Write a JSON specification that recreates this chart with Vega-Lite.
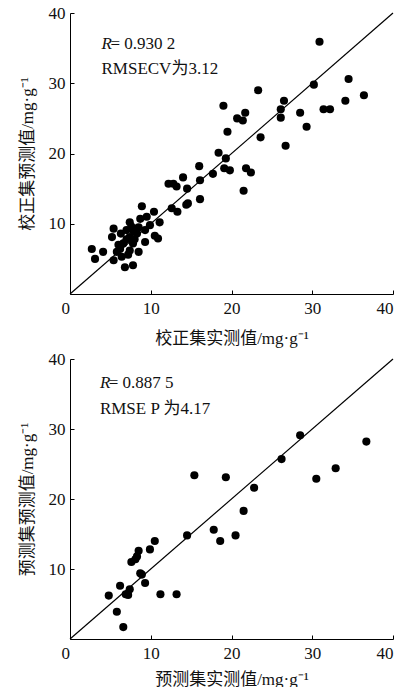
{
  "$schema": "https://vega.github.io/schema/vega-lite/v6.json",
  "padding": {"left": 18, "top": 4, "right": 0, "bottom": 0},
  "background": "white",
  "spacing": 4,
  "datasets": {
    "calib": [
      {"m": 30.9, "p": 35.9}, {"m": 34.5, "p": 30.6}, {"m": 30.2, "p": 29.8}, {"m": 36.4, "p": 28.3},
      {"m": 34.1, "p": 27.5}, {"m": 23.3, "p": 29.0}, {"m": 26.5, "p": 27.5}, {"m": 19.0, "p": 26.8},
      {"m": 26.1, "p": 26.3}, {"m": 28.5, "p": 25.8}, {"m": 31.4, "p": 26.3}, {"m": 32.2, "p": 26.3},
      {"m": 21.7, "p": 25.8}, {"m": 20.7, "p": 25.0}, {"m": 21.4, "p": 24.7}, {"m": 26.1, "p": 25.1},
      {"m": 29.3, "p": 23.8}, {"m": 19.5, "p": 23.1}, {"m": 23.6, "p": 22.3}, {"m": 26.7, "p": 21.1},
      {"m": 18.4, "p": 20.1}, {"m": 19.3, "p": 19.3}, {"m": 19.1, "p": 17.9}, {"m": 19.8, "p": 17.6},
      {"m": 21.8, "p": 17.9}, {"m": 22.4, "p": 17.3}, {"m": 21.5, "p": 14.7}, {"m": 16.0, "p": 18.2},
      {"m": 17.7, "p": 17.1}, {"m": 16.1, "p": 16.2}, {"m": 16.1, "p": 13.5}, {"m": 14.0, "p": 16.6},
      {"m": 12.2, "p": 15.7}, {"m": 13.2, "p": 15.3}, {"m": 12.8, "p": 15.7}, {"m": 14.5, "p": 15.0},
      {"m": 14.6, "p": 12.9}, {"m": 14.4, "p": 12.7}, {"m": 12.6, "p": 12.2}, {"m": 13.3, "p": 11.7},
      {"m": 8.9, "p": 12.5}, {"m": 10.4, "p": 11.7}, {"m": 11.1, "p": 10.2}, {"m": 10.5, "p": 8.3},
      {"m": 10.9, "p": 7.9}, {"m": 9.3, "p": 9.1}, {"m": 9.3, "p": 7.4}, {"m": 8.7, "p": 10.7},
      {"m": 9.5, "p": 11.0}, {"m": 7.4, "p": 10.2}, {"m": 5.4, "p": 9.3}, {"m": 5.2, "p": 8.1},
      {"m": 2.7, "p": 6.4}, {"m": 4.1, "p": 6.0}, {"m": 3.1, "p": 5.0}, {"m": 5.4, "p": 4.8},
      {"m": 6.8, "p": 3.8}, {"m": 7.8, "p": 4.1}, {"m": 8.5, "p": 6.0}, {"m": 6.4, "p": 5.3},
      {"m": 5.8, "p": 6.0}, {"m": 7.4, "p": 8.1}, {"m": 7.0, "p": 9.1}, {"m": 6.6, "p": 7.2},
      {"m": 7.8, "p": 7.2}, {"m": 8.3, "p": 8.6}, {"m": 6.2, "p": 6.4}, {"m": 7.4, "p": 6.2},
      {"m": 8.5, "p": 9.5}, {"m": 9.9, "p": 9.8}, {"m": 7.0, "p": 7.8}, {"m": 8.0, "p": 7.8},
      {"m": 6.0, "p": 7.0}, {"m": 7.2, "p": 5.6}, {"m": 7.9, "p": 8.9}, {"m": 6.3, "p": 8.6},
      {"m": 7.6, "p": 9.6}, {"m": 8.3, "p": 9.3}
    ],
    "pred": [
      {"m": 36.7, "p": 28.2}, {"m": 28.5, "p": 29.1}, {"m": 26.2, "p": 25.7}, {"m": 32.9, "p": 24.4},
      {"m": 30.5, "p": 22.9}, {"m": 15.4, "p": 23.4}, {"m": 19.3, "p": 23.1}, {"m": 22.8, "p": 21.6},
      {"m": 21.5, "p": 18.3}, {"m": 17.8, "p": 15.6}, {"m": 20.5, "p": 14.8}, {"m": 18.6, "p": 14.0},
      {"m": 14.5, "p": 14.8}, {"m": 10.5, "p": 14.0}, {"m": 9.9, "p": 12.8}, {"m": 8.5, "p": 12.6},
      {"m": 8.3, "p": 11.8}, {"m": 8.1, "p": 11.4}, {"m": 7.6, "p": 11.0}, {"m": 8.7, "p": 9.4},
      {"m": 9.3, "p": 8.0}, {"m": 6.2, "p": 7.6}, {"m": 7.4, "p": 7.1}, {"m": 6.9, "p": 6.4},
      {"m": 7.2, "p": 6.3}, {"m": 4.8, "p": 6.2}, {"m": 11.2, "p": 6.4}, {"m": 13.2, "p": 6.4},
      {"m": 5.8, "p": 3.9}, {"m": 6.6, "p": 1.7}, {"m": 8.9, "p": 9.2}
    ]
  },
  "config": {
    "view": {"stroke": null},
    "axis": {
      "domainColor": "#000",
      "domainWidth": 1,
      "tickColor": "#000",
      "tickSize": -4,
      "labelFont": "Liberation Serif",
      "labelFontSize": 17,
      "labelColor": "#111",
      "titleFont": "Liberation Serif, Noto Sans CJK SC",
      "titleFontSize": 17,
      "titleFontWeight": "normal",
      "titleColor": "#111",
      "grid": false
    }
  },
  "vconcat": [
    {
      "width": 323,
      "height": 281,
      "layer": [
        {
          "data": {"name": "calib"},
          "mark": {"type": "point", "filled": true, "shape": "circle", "size": 66, "color": "#000", "opacity": 1},
          "encoding": {
            "x": {"field": "m", "type": "quantitative", "scale": {"domain": [0, 40], "nice": false},
              "axis": {"title": "校正集实测值/mg·g⁻¹", "values": [0, 10, 20, 30, 40], "labelPadding": 10, "titlePadding": 14,
                "labelOffset": {"condition": {"test": "datum.value == 0", "value": -9}, "value": 0}}},
            "y": {"field": "p", "type": "quantitative", "scale": {"domain": [0, 40], "nice": false},
              "axis": {"title": "校正集预测值/mg·g⁻¹", "values": [10, 20, 30, 40], "labelPadding": 9, "titlePadding": 12}}
          }
        },
        {
          "data": {"values": [{}]},
          "mark": {"type": "rule", "color": "#000", "strokeWidth": 1.2},
          "encoding": {"x": {"datum": 0, "type": "quantitative"}, "y": {"datum": 0, "type": "quantitative"}, "x2": {"datum": 40}, "y2": {"datum": 40}}
        },
        {
          "data": {"values": [{}]},
          "mark": {"type": "text", "font": "Liberation Serif", "fontSize": 17, "fontStyle": "italic", "align": "left", "baseline": "alphabetic", "color": "#111"},
          "encoding": {"x": {"datum": 3.9, "type": "quantitative"}, "y": {"datum": 34.9, "type": "quantitative"}, "text": {"value": "R"}}
        },
        {
          "data": {"values": [{}]},
          "mark": {"type": "text", "font": "Liberation Serif", "fontSize": 17, "align": "left", "baseline": "alphabetic", "color": "#111"},
          "encoding": {"x": {"datum": 5.0, "type": "quantitative"}, "y": {"datum": 34.9, "type": "quantitative"}, "text": {"value": "= 0.930 2"}}
        },
        {
          "data": {"values": [{}]},
          "mark": {"type": "text", "font": "Liberation Serif, Noto Sans CJK SC", "fontSize": 17, "align": "left", "baseline": "alphabetic", "color": "#111"},
          "encoding": {"x": {"datum": 3.9, "type": "quantitative"}, "y": {"datum": 31.3, "type": "quantitative"}, "text": {"value": "RMSECV为3.12"}}
        }
      ]
    },
    {
      "width": 323,
      "height": 280,
      "layer": [
        {
          "data": {"name": "pred"},
          "mark": {"type": "point", "filled": true, "shape": "circle", "size": 66, "color": "#000", "opacity": 1},
          "encoding": {
            "x": {"field": "m", "type": "quantitative", "scale": {"domain": [0, 40], "nice": false},
              "axis": {"title": "预测集实测值/mg·g⁻¹", "values": [0, 10, 20, 30, 40], "labelPadding": 10, "titlePadding": 10,
                "labelOffset": {"condition": {"test": "datum.value == 0", "value": -9}, "value": 0}}},
            "y": {"field": "p", "type": "quantitative", "scale": {"domain": [0, 40], "nice": false},
              "axis": {"title": "预测集预测值/mg·g⁻¹", "values": [10, 20, 30, 40], "labelPadding": 9, "titlePadding": 12}}
          }
        },
        {
          "data": {"values": [{}]},
          "mark": {"type": "rule", "color": "#000", "strokeWidth": 1.2},
          "encoding": {"x": {"datum": 0, "type": "quantitative"}, "y": {"datum": 0, "type": "quantitative"}, "x2": {"datum": 40}, "y2": {"datum": 40}}
        },
        {
          "data": {"values": [{}]},
          "mark": {"type": "text", "font": "Liberation Serif", "fontSize": 17, "fontStyle": "italic", "align": "left", "baseline": "alphabetic", "color": "#111"},
          "encoding": {"x": {"datum": 3.7, "type": "quantitative"}, "y": {"datum": 35.8, "type": "quantitative"}, "text": {"value": "R"}}
        },
        {
          "data": {"values": [{}]},
          "mark": {"type": "text", "font": "Liberation Serif", "fontSize": 17, "align": "left", "baseline": "alphabetic", "color": "#111"},
          "encoding": {"x": {"datum": 4.8, "type": "quantitative"}, "y": {"datum": 35.8, "type": "quantitative"}, "text": {"value": "= 0.887 5"}}
        },
        {
          "data": {"values": [{}]},
          "mark": {"type": "text", "font": "Liberation Serif, Noto Sans CJK SC", "fontSize": 17, "align": "left", "baseline": "alphabetic", "color": "#111"},
          "encoding": {"x": {"datum": 3.7, "type": "quantitative"}, "y": {"datum": 32.1, "type": "quantitative"}, "text": {"value": "RMSE P 为4.17"}}
        }
      ]
    }
  ]
}
